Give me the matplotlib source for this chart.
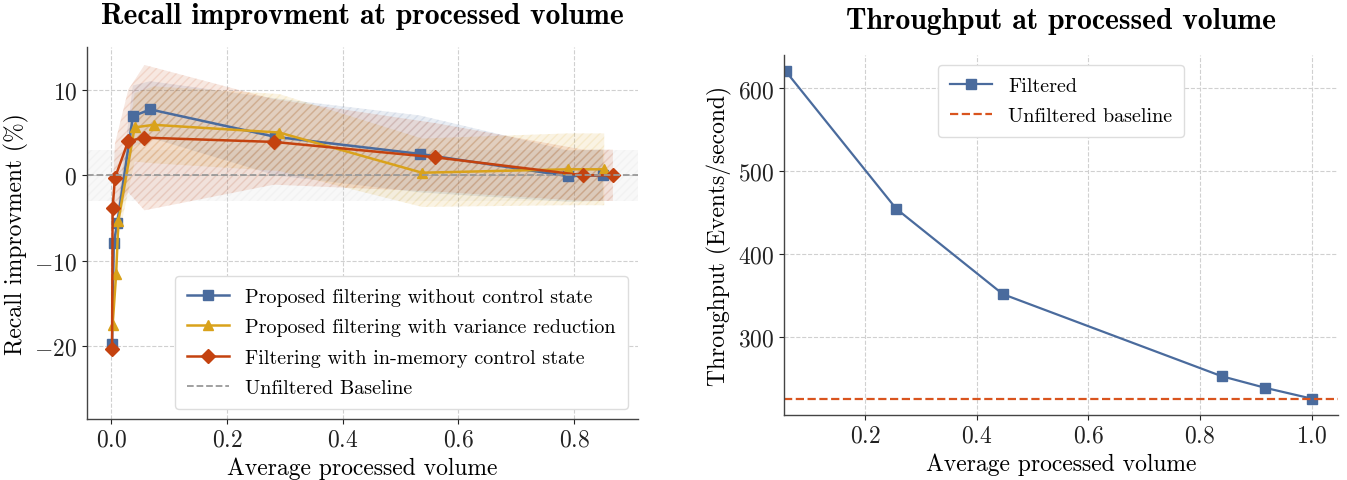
import numpy as np
import matplotlib
matplotlib.use("Agg")
import matplotlib.pyplot as plt

# Recall improvement data (left panel)
vol_plain = [0.001, 0.004, 0.010, 0.037, 0.067, 0.283, 0.533, 0.790, 0.850]
rec_plain = [-19.7, -7.9, -5.6, 6.9, 7.7, 4.5, 2.5, -0.1, 0.0]
std_plain = [0.5, 1.0, 1.5, 3.6, 3.3, 4.5, 4.5, 3.0, 3.0]

vol_var = [0.002, 0.008, 0.012, 0.040, 0.073, 0.290, 0.537, 0.790, 0.852]
rec_var = [-17.5, -11.6, -5.3, 5.6, 5.9, 5.0, 0.3, 0.7, 0.7]
std_var = [0.5, 1.0, 2.0, 4.0, 4.5, 4.5, 4.0, 4.2, 4.2]

vol_mem = [0.001, 0.002, 0.006, 0.029, 0.057, 0.281, 0.560, 0.816, 0.867]
rec_mem = [-20.3, -3.8, -0.3, 4.0, 4.4, 3.9, 2.1, 0.0, 0.0]
std_mem = [0.5, 1.5, 4.0, 6.0, 8.5, 5.0, 4.0, 3.0, 3.0]

baseline_band = 3.0

# Throughput data (right panel)
vol_tp = [0.058, 0.256, 0.447, 0.839, 0.917, 1.0]
throughput = [621, 455, 352, 253, 239, 226]
tp_baseline = 226

c_blue = "#4a6b9d"
c_yellow = "#d9a21b"
c_red = "#c4420f"
c_base = "#d9541e"

plt.rcParams["font.family"] = "cmr10"
plt.rcParams["mathtext.fontset"] = "cm"
plt.rcParams["axes.formatter.use_mathtext"] = True
plt.rcParams["axes.unicode_minus"] = True
plt.rcParams["hatch.linewidth"] = 1.0

fig = plt.figure(figsize=(13.47, 4.81), dpi=100)
ax1 = fig.add_axes([0.0646, 0.1268, 0.409, 0.7734])
ax2 = fig.add_axes([0.582, 0.1351, 0.4113, 0.7491])

for ax in (ax1, ax2):
    ax.grid(True, ls="--", color="#d0d0d0", lw=0.8)
    ax.set_axisbelow(True)
    for s in ("top", "right"):
        ax.spines[s].set_visible(False)
    for s in ("left", "bottom"):
        ax.spines[s].set_color("#444444")
        ax.spines[s].set_linewidth(1.0)
    ax.tick_params(labelsize=17, colors="#222222")

series = [
    (vol_plain, rec_plain, std_plain, c_blue, "s", "Proposed filtering without control state"),
    (vol_var, rec_var, std_var, c_yellow, "^", "Proposed filtering with variance reduction"),
    (vol_mem, rec_mem, std_mem, c_red, "D", "Filtering with in-memory control state"),
]

ax1.axhspan(-baseline_band, baseline_band, facecolor="#cccccc", edgecolor="#cccccc",
            alpha=0.12, hatch="////", lw=0)
for x, y, s, c, m, lab in series:
    x = np.array(x)
    y = np.array(y)
    s = np.array(s)
    ax1.fill_between(x, y - s, y + s, facecolor=c, edgecolor=c, alpha=0.12,
                     hatch="////", lw=0)
for x, y, s, c, m, lab in series:
    ax1.plot(x, y, color=c, marker=m, lw=1.8, ms=7, label=lab)
ax1.axhline(0, color="#999999", ls="--", lw=1.3, label="Unfiltered Baseline")

ax1.set_ylim(-28.5, 15)
ax1.set_xticks([0.0, 0.2, 0.4, 0.6, 0.8])
ax1.set_yticks([-20, -10, 0, 10])
ax1.set_xlabel("Average processed volume", fontsize=17)
ax1.set_ylabel("Recall improvment (%)", fontsize=17)
ax1.set_title("Recall improvment at processed volume", fontsize=21.3,
              fontfamily="cmb10", pad=17)
ax1.legend(loc="lower right", fontsize=14.5, framealpha=1.0, edgecolor="#dddddd",
           borderpad=0.6, handlelength=2.1, labelspacing=0.6)

ax2.plot(vol_tp, throughput, color=c_blue, marker="s", lw=1.6, ms=6.5, label="Filtered")
ax2.axhline(tp_baseline, color=c_base, ls="--", lw=1.6, label="Unfiltered baseline")
ax2.set_xlim(0.055, 1.047)
ax2.set_yticks([300, 400, 500, 600])
ax2.set_xticks([0.2, 0.4, 0.6, 0.8, 1.0])
ax2.set_xlabel("Average processed volume", fontsize=17)
ax2.set_ylabel("Throughput (Events/second)", fontsize=17)
ax2.set_title("Throughput at processed volume", fontsize=21.3,
              fontfamily="cmb10", pad=19)
ax2.legend(loc="upper center", fontsize=14.5, framealpha=1.0, edgecolor="#dddddd",
           borderpad=0.6, handlelength=2.1, labelspacing=0.6)

fig.savefig("out.png", dpi=100)
